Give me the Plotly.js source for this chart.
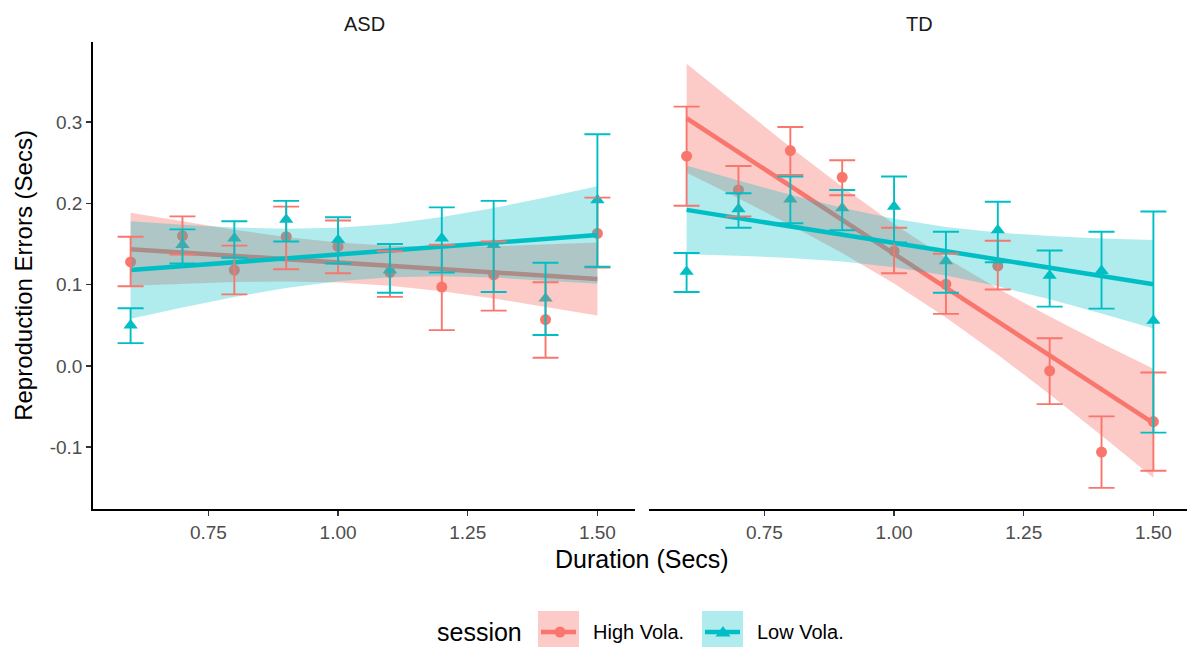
<!DOCTYPE html>
<html>
<head>
<meta charset="utf-8">
<script src="https://cdn.plot.ly/plotly-3.0.1.min.js"></script>
<style>html,body{margin:0;padding:0;background:#fff;}#chart{width:1187px;height:648px;}</style>
</head>
<body>
<div id="chart"></div>
<script>
// ---------- data ----------
var duration = [0.6, 0.7, 0.8, 0.9, 1.0, 1.1, 1.2, 1.3, 1.4, 1.5];
var xTicks = [0.75, 1.00, 1.25, 1.50];
var xTickLabels = ["0.75", "1.00", "1.25", "1.50"];
var yTicks = [-0.1, 0.0, 0.1, 0.2, 0.3];
var yTickLabels = ["-0.1", "0.0", "0.1", "0.2", "0.3"];
var groups = ["ASD", "TD"];
var sessions = ["High Vola.", "Low Vola."];

// ASD - High Vola.
var asdHighMean  = [0.128, 0.160, 0.118, 0.159, 0.147, 0.115, 0.097, 0.112, 0.057, 0.163];
var asdHighUpper = [0.159, 0.184, 0.148, 0.196, 0.179, 0.141, 0.149, 0.153, 0.103, 0.207];
var asdHighLower = [0.098, 0.137, 0.088, 0.119, 0.114, 0.085, 0.044, 0.068, 0.010, 0.121];
// ASD - Low Vola.
var asdLowMean  = [0.050, 0.149, 0.157, 0.180, 0.155, 0.118, 0.157, 0.149, 0.083, 0.204];
var asdLowUpper = [0.071, 0.168, 0.178, 0.203, 0.183, 0.150, 0.195, 0.203, 0.127, 0.285];
var asdLowLower = [0.028, 0.126, 0.133, 0.153, 0.126, 0.090, 0.115, 0.091, 0.038, 0.122];
// TD - High Vola.
var tdHighMean  = [0.258, 0.2165, 0.265, 0.232, 0.1415, 0.1005, 0.123, -0.006, -0.106, -0.0685];
var tdHighUpper = [0.319, 0.246, 0.294, 0.253, 0.170, 0.138, 0.154, 0.034, -0.062, -0.008];
var tdHighLower = [0.197, 0.184, 0.235, 0.210, 0.114, 0.064, 0.094, -0.047, -0.150, -0.129];
// TD - Low Vola.
var tdLowMean  = [0.116, 0.193, 0.205, 0.194, 0.196, 0.129, 0.167, 0.111, 0.117, 0.0557];
var tdLowUpper = [0.139, 0.2125, 0.233, 0.2165, 0.233, 0.165, 0.202, 0.142, 0.165, 0.190];
var tdLowLower = [0.091, 0.170, 0.1755, 0.167, 0.152, 0.090, 0.1275, 0.073, 0.0705, -0.082];

// Linear fits with confidence bands
var asdHighFit      = [0.1435, 0.1394, 0.1354, 0.1313, 0.1273, 0.1232, 0.1191, 0.1151, 0.1110, 0.1070];
var asdHighFitLower = [0.0985, 0.1012, 0.1033, 0.1040, 0.1027, 0.0986, 0.0918, 0.0830, 0.0728, 0.0620];
var asdHighFitUpper = [0.1885, 0.1776, 0.1675, 0.1586, 0.1519, 0.1478, 0.1464, 0.1472, 0.1492, 0.1520];
var asdLowFit       = [0.1180, 0.1228, 0.1276, 0.1323, 0.1371, 0.1419, 0.1467, 0.1515, 0.1562, 0.1610];
var asdLowFitLower  = [0.0580, 0.0719, 0.0848, 0.0959, 0.1043, 0.1091, 0.1103, 0.1087, 0.1053, 0.1010];
var asdLowFitUpper  = [0.1780, 0.1737, 0.1704, 0.1687, 0.1699, 0.1747, 0.1831, 0.1943, 0.2071, 0.2210];
var tdHighFit       = [0.3047, 0.2630, 0.2213, 0.1796, 0.1379, 0.0962, 0.0545, 0.0129, -0.0288, -0.0705];
var tdHighFitLower  = [0.2377, 0.2062, 0.1735, 0.1389, 0.1013, 0.0596, 0.0138, -0.0349, -0.0856, -0.1375];
var tdHighFitUpper  = [0.3717, 0.3198, 0.2691, 0.2203, 0.1745, 0.1328, 0.0952, 0.0607, 0.0280, -0.0035];
var tdLowFit        = [0.1920, 0.1818, 0.1717, 0.1615, 0.1513, 0.1412, 0.1310, 0.1208, 0.1107, 0.1005];
var tdLowFitLower   = [0.1375, 0.1356, 0.1328, 0.1284, 0.1215, 0.1114, 0.0979, 0.0819, 0.0645, 0.0460];
var tdLowFitUpper   = [0.2465, 0.2280, 0.2106, 0.1946, 0.1811, 0.1710, 0.1641, 0.1597, 0.1569, 0.1550];

// ---------- styling ----------
var RED = "#F8766D", CYAN = "#00BFC4";
var RED_FILL = "rgba(248,118,109,0.38)", CYAN_FILL = "rgba(0,191,196,0.31)";
var FONT = "Liberation Sans, Arial, Helvetica, sans-serif";

function pointsTrace(xa, ya, y, color, symbol, size) {
  return {x: duration, y: y, xaxis: xa, yaxis: ya, type: "scatter", mode: "markers",
    marker: {color: color, symbol: symbol, size: size, line: {width: 0}},
    hoverinfo: "skip", showlegend: false, cliponaxis: false};
}
function ribbonTrace(xa, ya, lower, upper, fill) {
  var xs = duration.concat(duration.slice().reverse());
  var ys = upper.concat(lower.slice().reverse());
  return {x: xs, y: ys, xaxis: xa, yaxis: ya, type: "scatter", mode: "lines",
    fill: "toself", fillcolor: fill, line: {width: 0, color: "rgba(0,0,0,0)"},
    hoverinfo: "skip", showlegend: false};
}
function fitTrace(xa, ya, y, color) {
  return {x: duration, y: y, xaxis: xa, yaxis: ya, type: "scatter", mode: "lines",
    line: {color: color, width: 4.5}, hoverinfo: "skip", showlegend: false};
}
function errTrace(xa, ya, mean, lower, upper, color) {
  return {x: duration, y: mean, xaxis: xa, yaxis: ya, type: "scatter", mode: "markers",
    marker: {opacity: 0, size: 1},
    error_y: {type: "data", symmetric: false,
      array: upper.map(function (u, i) { return u - mean[i]; }),
      arrayminus: lower.map(function (l, i) { return mean[i] - l; }),
      color: color, thickness: 1.9, width: 13},
    hoverinfo: "skip", showlegend: false};
}

var panels = [
  {xa: "x", ya: "y", hm: asdHighMean, hu: asdHighUpper, hl: asdHighLower,
   lm: asdLowMean, lu: asdLowUpper, ll: asdLowLower,
   hf: asdHighFit, hfl: asdHighFitLower, hfu: asdHighFitUpper,
   lf: asdLowFit, lfl: asdLowFitLower, lfu: asdLowFitUpper},
  {xa: "x2", ya: "y2", hm: tdHighMean, hu: tdHighUpper, hl: tdHighLower,
   lm: tdLowMean, lu: tdLowUpper, ll: tdLowLower,
   hf: tdHighFit, hfl: tdHighFitLower, hfu: tdHighFitUpper,
   lf: tdLowFit, lfl: tdLowFitLower, lfu: tdLowFitUpper}
];

var data = [];
panels.forEach(function (p) {
  data.push(pointsTrace(p.xa, p.ya, p.hm, RED, "circle", 11));
  data.push(pointsTrace(p.xa, p.ya, p.lm, CYAN, "triangle-up", 12.5));
  data.push(ribbonTrace(p.xa, p.ya, p.hfl, p.hfu, RED_FILL));
  data.push(fitTrace(p.xa, p.ya, p.hf, RED));
  data.push(ribbonTrace(p.xa, p.ya, p.lfl, p.lfu, CYAN_FILL));
  data.push(fitTrace(p.xa, p.ya, p.lf, CYAN));
  data.push(errTrace(p.xa, p.ya, p.hm, p.hl, p.hu, RED));
  data.push(errTrace(p.xa, p.ya, p.lm, p.ll, p.lu, CYAN));
});

// ---------- layout ----------
var W = 1187, H = 648, ML = 93, MT = 42, MB = 139, MR = 0;
var PW = W - ML - MR, PH = H - MT - MB;
function px(x) { return (x - ML) / PW; }
function py(y) { return (H - MB - y) / PH; }

var xCommon = {
  tickvals: xTicks, ticktext: xTickLabels, ticks: "outside", ticklen: 5, tickwidth: 1.5,
  tickcolor: "#333333", showline: true, linecolor: "#000000", linewidth: 1.8,
  showgrid: false, zeroline: false, tickfont: {family: FONT, size: 19, color: "#4D4D4D"},
  fixedrange: true
};

var annotations = [
  {text: groups[0], x: px(364), y: py(24), xref: "paper", yref: "paper", showarrow: false,
   xanchor: "center", yanchor: "middle", font: {family: FONT, size: 20, color: "#1A1A1A"}},
  {text: groups[1], x: px(919), y: py(24), xref: "paper", yref: "paper", showarrow: false,
   xanchor: "center", yanchor: "middle", font: {family: FONT, size: 20, color: "#1A1A1A"}},
  {text: "Duration (Secs)", x: px(642), y: py(559), xref: "paper", yref: "paper", showarrow: false,
   xanchor: "center", yanchor: "middle", font: {family: FONT, size: 25, color: "#000000"}},
  {text: "session", x: px(435), y: py(632), xref: "paper", yref: "paper", showarrow: false,
   xanchor: "left", yanchor: "middle", font: {family: FONT, size: 25, color: "#000000"}},
  {text: sessions[0], x: px(591), y: py(632), xref: "paper", yref: "paper", showarrow: false,
   xanchor: "left", yanchor: "middle", font: {family: FONT, size: 20, color: "#000000"}},
  {text: sessions[1], x: px(755), y: py(632), xref: "paper", yref: "paper", showarrow: false,
   xanchor: "left", yanchor: "middle", font: {family: FONT, size: 20, color: "#000000"}}
];

var shapes = [
  // legend key: High Vola.
  {type: "rect", xref: "paper", yref: "paper", x0: px(538), x1: px(579), y0: py(611), y1: py(647),
   fillcolor: RED_FILL, line: {width: 0}},
  {type: "line", xref: "paper", yref: "paper", x0: px(541), x1: px(576), y0: py(632), y1: py(632),
   line: {color: RED, width: 4.5}},
  {type: "circle", xref: "paper", yref: "paper", x0: px(554.5), x1: px(565.5), y0: py(626.5), y1: py(637.5),
   fillcolor: RED, line: {width: 0}},
  // legend key: Low Vola.
  {type: "rect", xref: "paper", yref: "paper", x0: px(702), x1: px(743), y0: py(611), y1: py(647),
   fillcolor: CYAN_FILL, line: {width: 0}},
  {type: "line", xref: "paper", yref: "paper", x0: px(705), x1: px(740), y0: py(632), y1: py(632),
   line: {color: CYAN, width: 4.5}},
  {type: "path", xref: "paper", yref: "paper",
   path: "M" + px(715.5) + "," + py(636.5) + " L" + px(730.5) + "," + py(636.5) + " L" + px(723) + "," + py(626) + " Z",
   fillcolor: CYAN, line: {width: 0}}
];

var layout = {
  width: W, height: H,
  margin: {l: ML, r: MR, t: MT, b: MB, pad: 0},
  paper_bgcolor: "#FFFFFF", plot_bgcolor: "#FFFFFF",
  showlegend: false,
  font: {family: FONT},
  xaxis: Object.assign({}, xCommon, {domain: [0, px(635)], range: [0.5275, 1.5725], anchor: "y"}),
  xaxis2: Object.assign({}, xCommon, {domain: [px(649), 1], range: [0.5275, 1.5648], anchor: "y2"}),
  yaxis: {
    domain: [0, 1], range: [-0.176, 0.3985], anchor: "x",
    tickvals: yTicks, ticktext: yTickLabels, ticks: "outside", ticklen: 5, tickwidth: 1.5,
    tickcolor: "#333333", showline: true, linecolor: "#000000", linewidth: 1.8,
    showgrid: false, zeroline: false, tickfont: {family: FONT, size: 19, color: "#4D4D4D"},
    title: {text: "Reproduction Errors (Secs)", font: {family: FONT, size: 24, color: "#000000"}, standoff: 10},
    fixedrange: true
  },
  yaxis2: {
    domain: [0, 1], anchor: "x2", matches: "y",
    showline: false, showticklabels: false, ticks: "", showgrid: false, zeroline: false, fixedrange: true
  },
  annotations: annotations,
  shapes: shapes
};

Plotly.newPlot("chart", data, layout, {displayModeBar: false, staticPlot: true});
</script>
</body>
</html>
